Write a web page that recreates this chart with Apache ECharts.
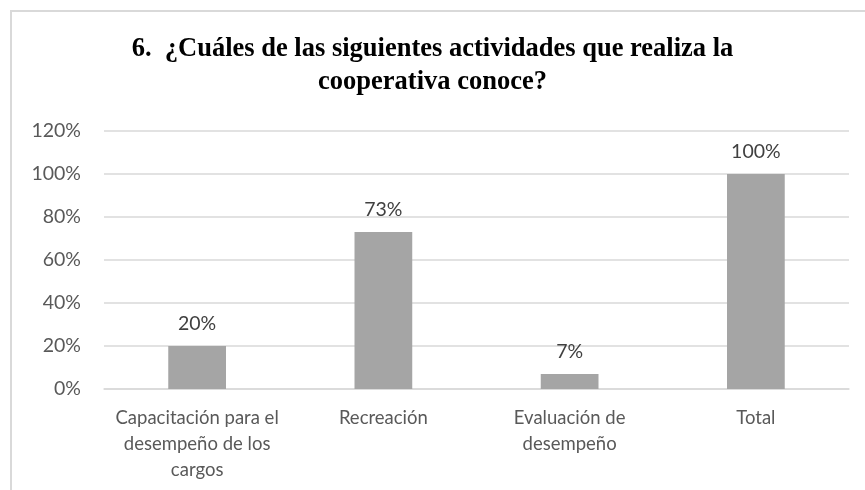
<!DOCTYPE html>
<html>
<head>
<meta charset="utf-8">
<script src="https://cdn.jsdelivr.net/npm/echarts@6/dist/echarts.min.js"></script>
<style>
  html, body { margin: 0; padding: 0; background: #fff; }
  #frame { position: absolute; left: 10px; top: 10px; width: 870px; height: 500px; border: 2px solid #d9d9d9; box-sizing: border-box; }
  #chart { position: absolute; left: 0; top: 0; width: 865px; height: 490px; }
</style>
</head>
<body>
<div id="frame"></div>
<div id="chart"></div>
<script>
// Respuestas a la pregunta 6
const categories = [
  'Capacitación para el\ndesempeño de los\ncargos',
  'Recreación',
  'Evaluación de\ndesempeño',
  'Total'
];
const values = [0.20, 0.73, 0.07, 1.00];
const yTicks = [0, 0.2, 0.4, 0.6, 0.8, 1.0, 1.2];

const chart = echarts.init(document.getElementById('chart'), null, { renderer: 'canvas' });
const pct = v => Math.round(v * 100) + '%';

chart.setOption({
  animation: false,
  title: {
    text: '6.  ¿Cuáles de las siguientes actividades que realiza la\ncooperativa conoce?',
    left: 'center',
    top: 28,
    textStyle: {
      fontFamily: 'Liberation Serif',
      fontWeight: 'bold',
      fontSize: 26.5,
      lineHeight: 33,
      color: '#000'
    }
  },
  grid: { left: 104, right: 16, top: 131, bottom: 101, containLabel: false },
  xAxis: {
    type: 'category',
    data: categories,
    axisLine: { lineStyle: { color: '#d9d9d9', width: 1.5 } },
    axisTick: { show: false },
    axisLabel: {
      fontFamily: 'Lato',
      fontSize: 18.5,
      lineHeight: 26,
      color: '#595959',
      margin: 16,
      interval: 0
    }
  },
  yAxis: {
    type: 'value',
    min: yTicks[0],
    max: yTicks[yTicks.length - 1],
    interval: yTicks[1] - yTicks[0],
    axisLine: { show: false },
    axisTick: { show: false },
    splitLine: { lineStyle: { color: '#d9d9d9', width: 1.5 } },
    axisLabel: {
      fontFamily: 'Lato',
      fontSize: 19.5,
      color: '#595959',
      margin: 23,
      formatter: pct
    }
  },
  series: [{
    type: 'bar',
    data: values,
    barWidth: '31%',
    itemStyle: { color: '#a5a5a5' },
    label: {
      show: true,
      position: 'top',
      distance: 12,
      fontFamily: 'Lato',
      fontSize: 19.5,
      color: '#404040',
      formatter: p => pct(p.value)
    }
  }]
});
</script>
</body>
</html>
